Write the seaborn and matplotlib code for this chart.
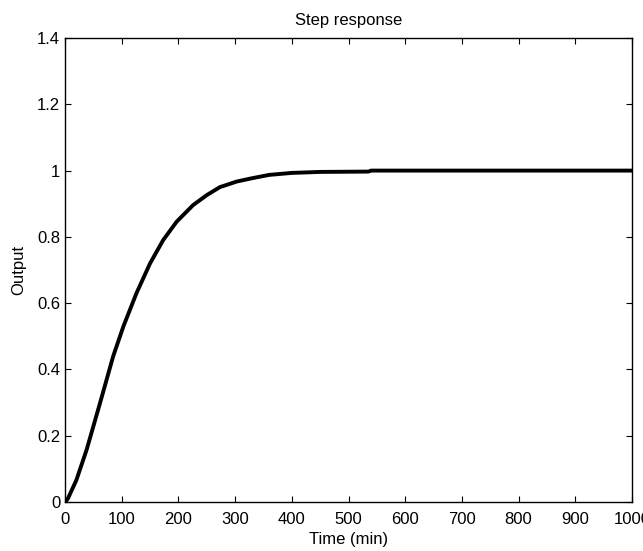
import matplotlib
matplotlib.use("Agg")
import matplotlib.pyplot as plt
import numpy as np
import pandas as pd
import seaborn as sns

# values
time_min = [0, 5, 20, 38, 62, 85, 103, 126, 150, 173, 197, 226, 250, 273,
            303, 330, 360, 400, 450, 535, 540, 1000]
output = [0, 0.01, 0.066, 0.157, 0.30, 0.44, 0.53, 0.63, 0.72, 0.79, 0.846,
          0.896, 0.926, 0.950, 0.967, 0.977, 0.987, 0.993, 0.996, 0.997, 1.0, 1.0]

x_ticks = list(range(0, 1001, 100))
y_ticks = [0, 0.2, 0.4, 0.6, 0.8, 1, 1.2, 1.4]
y_tick_labels = ["0", "0.2", "0.4", "0.6", "0.8", "1", "1.2", "1.4"]

sns.set_style("ticks")
plt.rcParams["font.family"] = ["Liberation Sans", "DejaVu Sans"]
plt.rcParams["xtick.direction"] = "in"
plt.rcParams["ytick.direction"] = "in"
# matlab look: plain black text
plt.rcParams["text.color"] = "black"
plt.rcParams["axes.labelcolor"] = "black"
plt.rcParams["xtick.color"] = "black"
plt.rcParams["ytick.color"] = "black"

df = pd.DataFrame({"Time (min)": time_min, "Output": output})

fig = plt.figure(figsize=(6.43, 5.51), dpi=100)
ax = fig.add_axes([0.1011, 0.0889, 0.8818, 0.8421])

sns.lineplot(data=df, x="Time (min)", y="Output", sort=False, color="black",
             linewidth=2.8, ax=ax)

ax.set_xlim(0, 1000)
ax.set_ylim(0, 1.4)
ax.set_xticks(x_ticks)
ax.set_xticklabels([str(v) for v in x_ticks])
ax.set_yticks(y_ticks)
ax.set_yticklabels(y_tick_labels)
ax.tick_params(axis="both", which="both", top=True, right=True, length=4,
               width=0.8, labelsize=12, color="black", labelcolor="black")
ax.tick_params(axis="x", pad=7)
ax.tick_params(axis="y", pad=3.5)
for side in ax.spines.values():
    side.set_linewidth(1.0)
    side.set_color("black")

ax.set_xlabel("Time (min)", fontsize=12, labelpad=4)
ax.set_ylabel("Output", fontsize=12, labelpad=8)
ax.set_title("Step response", fontsize=12, pad=9.5)

fig.savefig("out.png", dpi=100)
